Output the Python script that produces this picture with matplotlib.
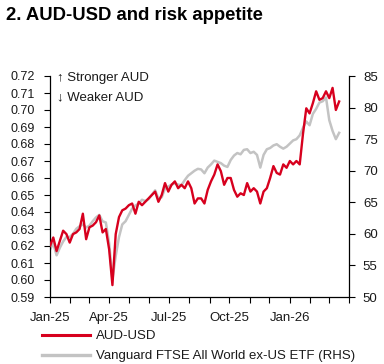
import matplotlib
matplotlib.use("Agg")
import matplotlib.pyplot as plt
import matplotlib.dates as mdates
import pandas as pd
from matplotlib.lines import Line2D

plt.rcParams['font.family'] = ['Liberation Sans', 'DejaVu Sans']

# Data, one point every 5 days from 1 Jan 2025
start_date = "2025-01-01"
step = "5D"
aud_usd = [
    0.620, 0.625, 0.617, 0.623, 0.629, 0.627, 0.622, 0.627, 0.628, 0.630,
    0.639, 0.624, 0.631, 0.632, 0.634, 0.638, 0.628, 0.630, 0.618, 0.597,
    0.627, 0.637, 0.641, 0.642, 0.644, 0.645, 0.639, 0.646, 0.644, 0.646,
    0.648, 0.650, 0.652, 0.646, 0.650, 0.657, 0.652, 0.656, 0.658, 0.654,
    0.656, 0.654, 0.658, 0.654, 0.645, 0.648, 0.648, 0.645, 0.653, 0.658,
    0.662, 0.668, 0.664, 0.656, 0.660, 0.660, 0.653, 0.649, 0.651, 0.650,
    0.657, 0.652, 0.654, 0.652, 0.645, 0.652, 0.654, 0.660, 0.667, 0.663,
    0.662, 0.668, 0.666, 0.670, 0.668, 0.670, 0.668, 0.686, 0.701, 0.698,
    0.704, 0.711, 0.706, 0.707, 0.711, 0.707, 0.713, 0.700, 0.705,
]
etf = [
    57.5, 58.5, 56.6, 57.8, 58.8, 59.5, 59.5, 60.0, 60.8, 61.2,
    61.5, 61.0, 61.3, 62.0, 62.6, 63.0, 62.0, 61.8, 58.5, 52.8,
    56.5, 59.5, 61.5, 62.0, 63.0, 64.0, 64.5, 64.8, 65.4, 65.2,
    65.5, 66.2, 66.9, 65.6, 65.8, 67.2, 67.5, 67.8, 68.0, 67.8,
    67.7, 68.5, 69.2, 69.6, 70.0, 70.3, 70.2, 69.6, 70.5, 71.0,
    71.6, 71.4, 71.2, 70.8, 70.6, 71.7, 72.4, 72.8, 72.6, 73.3,
    73.4, 72.8, 73.0, 72.5, 70.5, 72.5, 73.4, 73.6, 74.0, 74.2,
    73.8, 73.5, 73.8, 74.3, 74.8, 75.0, 75.6, 76.8, 77.8, 77.2,
    79.0, 79.8, 80.8, 81.0, 81.6, 78.0, 76.3, 75.0, 76.0,
]
dates = pd.date_range(start_date, periods=len(aud_usd), freq=step)
x_labels = ["2025-01-01", "2025-04-01", "2025-07-01", "2025-10-01", "2026-01-01"]

title = "2. AUD-USD and risk appetite"
label_aud = "AUD-USD"
label_etf = "Vanguard FTSE All World ex-US ETF (RHS)"
note_up = "\u2191 Stronger AUD"
note_down = "\u2193 Weaker AUD"

red = "#d7001e"
grey = "#c3c3c3"
txt = "#1a1a1a"

fig = plt.figure(figsize=(3.84, 3.64), dpi=100)
ax = fig.add_axes([50/384, (364-297)/364, 299/384, 221/364])
ax2 = ax.twinx()

ax.plot(dates, aud_usd, color=red, lw=1.7, zorder=3)
ax2.plot(dates, etf, color=grey, lw=1.8, zorder=2)
ax.set_zorder(ax2.get_zorder() + 1)
ax.patch.set_visible(False)

ax.set_ylim(0.59, 0.72)
ax.set_yticks([0.59 + 0.01*i for i in range(14)])
ax.yaxis.set_major_formatter(matplotlib.ticker.FormatStrFormatter('%.2f'))
ax2.set_ylim(50, 85)
ax2.set_yticks(range(50, 86, 5))

ax.set_xlim(pd.Timestamp("2025-01-01"), pd.Timestamp("2026-04-01"))
ax.set_xticks([mdates.date2num(pd.Timestamp(d)) for d in x_labels])
ax.xaxis.set_minor_locator(mdates.MonthLocator())
ax.xaxis.set_major_formatter(mdates.DateFormatter("%b-%y"))

for a in (ax, ax2):
    a.spines['top'].set_visible(False)
    for s in a.spines.values():
        s.set_linewidth(0.9)
        s.set_color('black')
ax.spines['right'].set_visible(False)
ax2.spines['left'].set_visible(False)
ax2.spines['bottom'].set_visible(False)

ax.tick_params(axis='y', direction='out', length=4, width=0.8, pad=7, labelsize=9, labelcolor=txt)
ax.tick_params(axis='x', which='both', direction='out', length=4, width=0.8, pad=7, labelsize=9.5, labelcolor=txt)
ax2.tick_params(axis='y', direction='out', length=4, width=0.8, pad=6, labelsize=9.5, labelcolor=txt)

ax.text(0.025, 0.99, note_up, transform=ax.transAxes, fontsize=9.5, color=txt, va='center', ha='left')
ax.text(0.025, 0.905, note_down, transform=ax.transAxes, fontsize=9.5, color=txt, va='center', ha='left')

fig.text(6/384, 1 - 16/364, title, fontsize=13.3, fontweight='bold', va='center', ha='left', color='black')

handles = [Line2D([], [], color=red, lw=2.2), Line2D([], [], color=grey, lw=2.4)]
fig.legend(handles, [label_aud, label_etf], loc='upper left',
           bbox_to_anchor=(42/384, 1 - 330/364), frameon=False, fontsize=9.5,
           handlelength=3.6, handletextpad=0.5, borderpad=0, borderaxespad=0,
           labelspacing=0.6, labelcolor=txt)

fig.savefig("out.png", dpi=100)
